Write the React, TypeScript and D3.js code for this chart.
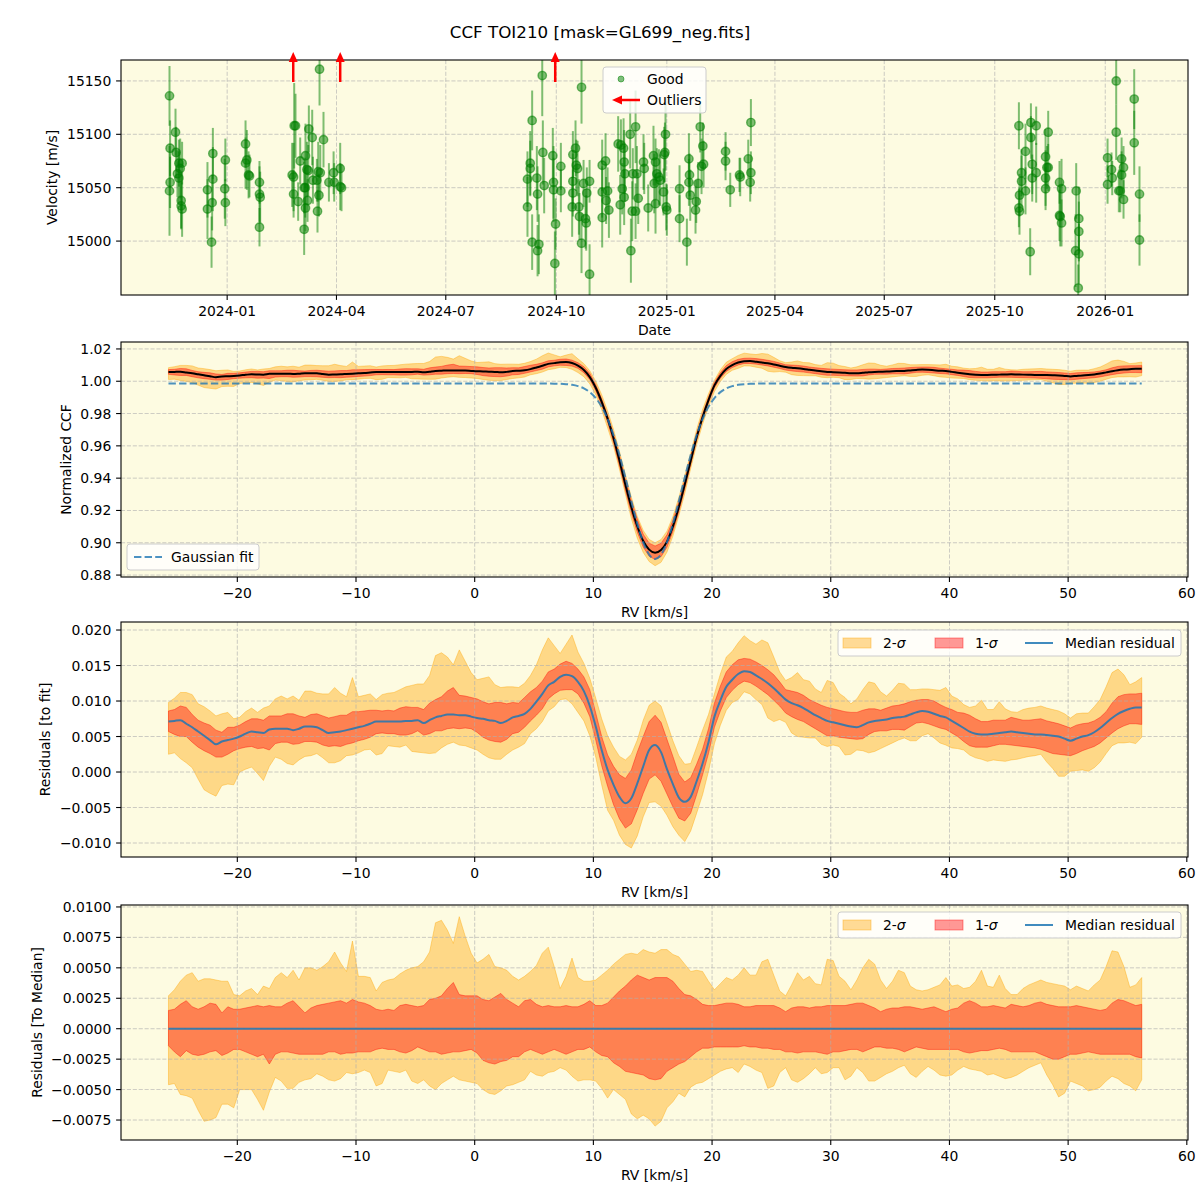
import React from 'react';
import * as d3 from 'd3';

// ---- radial velocity time series (BJD, m/s) ----
const goodBjd = [
  2460262.5, 2460267.5, 2460263.0, 2460268.0, 2460270.3, 2460273.0, 2460271.4, 2460269.1, 2460270.3, 2460263.0,
  2460262.5, 2460272.2, 2460272.2, 2460273.0, 2460294.1, 2460294.1, 2460298.6, 2460298.6, 2460298.0, 2460297.5,
  2460309.0, 2460308.5, 2460309.0, 2460325.8, 2460326.9, 2460325.8, 2460328.3, 2460329.1, 2460337.4, 2460337.4,
  2460338.0, 2460337.4, 2460366.3, 2460367.4, 2460364.6, 2460365.8, 2460365.8, 2460369.6, 2460371.3, 2460375.7,
  2460376.9, 2460378.0, 2460378.5, 2460381.3, 2460374.6, 2460375.5, 2460375.7, 2460377.4, 2460374.6, 2460381.9,
  2460385.2, 2460386.3, 2460388.0, 2460386.9, 2460385.7, 2460390.7, 2460387.4, 2460395.2, 2460399.1, 2460399.6,
  2460404.6, 2460404.6, 2460405.7, 2460564.4, 2460562.8, 2460562.8, 2460560.5, 2460560.5, 2460564.4, 2460568.3,
  2460568.9, 2460570.0, 2460568.9, 2460572.8, 2460573.3, 2460574.4, 2460581.6, 2460582.2, 2460582.2, 2460583.9,
  2460583.3, 2460588.3, 2460588.3, 2460598.3, 2460600.5, 2460601.1, 2460598.3, 2460598.3, 2460597.7, 2460602.2,
  2460603.3, 2460603.8, 2460605.5, 2460605.5, 2460607.2, 2460608.8, 2460609.4, 2460609.9, 2460612.2, 2460612.2,
  2460622.7, 2460625.5, 2460622.7, 2460626.0, 2460628.3, 2460622.7, 2460627.2, 2460636.0, 2460638.3, 2460640.5,
  2460641.0, 2460641.6, 2460639.4, 2460641.0, 2460637.7, 2460646.0, 2460650.5, 2460648.2, 2460651.6, 2460646.6,
  2460647.7, 2460650.5, 2460652.7, 2460657.1, 2460657.7, 2460661.0, 2460665.4, 2460667.1, 2460666.0, 2460668.2,
  2460669.9, 2460667.1, 2460671.0, 2460673.8, 2460675.4, 2460674.9, 2460674.3, 2460676.0, 2460676.5, 2460687.1,
  2460687.1, 2460693.2, 2460694.9, 2460695.4, 2460694.9, 2460696.0, 2460701.0, 2460700.4, 2460702.6, 2460704.3,
  2460706.5, 2460705.4, 2460707.1, 2460725.4, 2460725.4, 2460729.3, 2460737.0, 2460737.6, 2460744.3, 2460746.5,
  2460746.5, 2460745.9, 2460969.6, 2460969.6, 2460970.1, 2460970.1, 2460971.8, 2460971.8, 2460975.1, 2460975.1,
  2460979.0, 2460979.6, 2460979.6, 2460980.7, 2460980.7, 2460984.0, 2460984.0, 2460991.8, 2460991.8, 2460991.8,
  2460994.0, 2460994.0, 2460992.9, 2461003.4, 2461005.1, 2461003.4, 2461004.0, 2461005.1, 2461017.3, 2461019.5,
  2461019.5, 2461016.8, 2461019.5, 2461019.0, 2461043.4, 2461043.4, 2461046.7, 2461047.3, 2461050.6, 2461050.6,
  2461052.8, 2461054.0, 2461055.1, 2461055.1, 2461056.7, 2461056.7, 2461065.6, 2461065.6, 2461070.0, 2461070.0,
];
const goodVel = [
  15136, 15102, 15087, 15083, 15073, 15073, 15068, 15063, 15059, 15055,
  15047, 15038, 15033, 15030, 15048, 15030, 15082, 15058, 15036, 14999,
  15076, 15049, 15036, 15091, 15076, 15073, 15062, 15061, 15055, 15044,
  15041, 15013, 15108, 15108, 15062, 15060, 15044, 15037, 15075, 15080,
  15067, 15066, 15105, 15097, 15050, 15050, 15031, 15038, 15011, 15057,
  15057, 15065, 15064, 15043, 15028, 15095, 15161, 15055, 15064, 15055,
  15068, 15051, 15050, 15113, 15073, 15068, 15058, 15032, 14999, 15059,
  15044, 14997, 14991, 15155, 15083, 15052, 15080, 15055, 15048, 15016,
  14979, 15070, 15047, 15081, 15087, 15071, 15056, 15045, 15032, 15068,
  15032, 15023, 15144, 14998, 15054, 15021, 15017, 15045, 15056, 14969,
  15071, 15075, 15046, 15038, 15029, 15022, 15047, 15091, 15090, 15087,
  15074, 15063, 15049, 15041, 15034, 15100, 15107, 15063, 15063, 14991,
  15028, 15028, 15040, 15074, 15068, 15031, 15080, 15074, 15054, 15063,
  15060, 15035, 15057, 15046, 15100, 15083, 15081, 15032, 15029, 15049,
  15021, 14999, 15077, 15062, 15055, 15043, 15037, 15029, 15054, 15107,
  15089, 15070, 15072, 15084, 15075, 15048, 15062, 15060, 15077, 15111,
  15064, 15055, 15108, 15031, 15028, 15043, 15064, 15056, 15084, 15047,
  14990, 15111, 15097, 15072, 15059, 15108, 15064, 15079, 15059, 15049,
  15102, 15069, 15069, 15055, 15049, 15024, 15023, 15017, 15047, 15021,
  15009, 14991, 14988, 14956, 15078, 15053, 15067, 15059, 15150, 15102,
  15047, 15047, 15077, 15062, 15069, 15039, 15133, 15092, 15044, 15001,
];
const goodErr = [
  28, 22, 26, 24, 22, 20, 28, 22, 25, 24,
  42, 26, 22, 26, 26, 28, 24, 30, 26, 24,
  20, 28, 22, 22, 28, 24, 22, 20, 20, 26,
  24, 18, 40, 30, 30, 32, 22, 18, 22, 30,
  26, 24, 22, 26, 24, 28, 22, 20, 24, 22,
  20, 28, 26, 20, 20, 26, 34, 18, 20, 18,
  24, 22, 22, 28, 30, 26, 26, 28, 26, 30,
  26, 28, 24, 38, 30, 26, 26, 34, 30, 24,
  30, 22, 20, 22, 26, 24, 26, 22, 28, 26,
  26, 22, 34, 28, 22, 28, 26, 24, 20, 28,
  24, 26, 24, 22, 26, 28, 22, 26, 24, 28,
  30, 26, 24, 26, 28, 32, 34, 24, 26, 30,
  28, 26, 24, 26, 24, 22, 28, 22, 28, 24,
  26, 28, 24, 22, 34, 28, 26, 22, 24, 22,
  22, 22, 24, 20, 22, 24, 20, 22, 20, 24,
  22, 26, 22, 18, 18, 16, 16, 18, 18, 22,
  20, 18, 22, 18, 22, 20, 22, 24, 26, 22,
  22, 18, 20, 28, 22, 18, 28, 26, 26, 20,
  20, 22, 20, 20, 28, 24, 28, 22, 26, 30,
  28, 34, 28, 22, 18, 18, 16, 16, 22, 26,
  20, 20, 20, 22, 20, 18, 28, 30, 26, 24,
];

// epochs rejected as outliers (all above the plotted range)
const outlierBjd = [2460365.5, 2460404.6, 2460583.6];
const outlierVel = [15228, 15205, 15262];

// ---- CCF stack ----
const RV_START = -25.8; // km/s
const RV_STEP = 0.5;

// Gaussian fit to the median CCF
const FIT_CONTINUUM = 0.9986;
const FIT_DEPTH = 0.1086;
const FIT_CENTER = 15.2;
const FIT_SIGMA = 2.24;

// residual values below are in units of 1e-4
const RESID_UNIT = 1e-4;

// median residual to the Gaussian fit
const medianResid = [
  71, 72, 73, 68, 63, 57, 51, 45, 39, 43,
  45, 47, 50, 54, 57, 56, 55, 60, 61, 61,
  61, 59, 61, 64, 64, 63, 59, 55, 56, 57,
  59, 61, 63, 65, 68, 71, 71, 71, 71, 71,
  72, 72, 73, 69, 73, 77, 79, 81, 81, 80,
  80, 78, 76, 75, 73, 72, 69, 72, 77, 79,
  82, 89, 99, 110, 122, 127, 134, 137, 135, 127,
  114, 93, 64, 31, 3, -18, -35, -44, -37, -16,
  8, 31, 38,
  28, 4, -17, -36, -42, -35, -13, 12, 42, 78,
  101, 120, 130, 138, 142, 141, 136, 131, 125, 118,
  110, 102, 97, 94, 90, 85, 80, 76, 72, 70,
  68, 66, 64, 63, 66, 70, 72, 73, 74, 76,
  77, 78, 81, 84, 86, 85, 82, 79, 77, 72,
  67, 62, 57, 54, 53, 53, 54, 55, 56, 57,
  56, 55, 54, 53, 53, 52, 51, 50, 47, 44,
  47, 50, 52, 56, 62, 69, 76, 82, 86, 89,
  91, 91,
];

// spread of the individual residuals about the median
const band2Hi = [
  27, 32, 39, 44, 46, 39, 41, 41, 40, 39,
  39, 28, 27, 31, 33, 28, 35, 33, 42, 46,
  42, 48, 40, 50, 50, 48, 51, 55, 63, 54,
  47, 72, 43, 43, 42, 31, 38, 40, 41, 45,
  48, 50, 51, 55, 63, 87, 89, 81, 70, 92,
  76, 62, 54, 57, 61, 51, 50, 48, 43, 40,
  43, 47, 52, 62, 67, 51, 33, 43, 58, 42,
  39, 39, 40, 44, 48, 53, 57, 61, 62, 61,
  65, 63, 62,
  65, 65, 61, 59, 53, 47, 48, 47, 39, 32,
  37, 42, 40, 44, 50, 44, 44, 55, 57, 44,
  31, 27, 36, 46, 40, 43, 37, 36, 57, 56,
  43, 39, 32, 40, 50, 57, 53, 40, 33, 39,
  48, 46, 35, 32, 31, 32, 34, 36, 42, 35,
  36, 33, 34, 39, 48, 35, 34, 44, 33, 28,
  28, 33, 36, 38, 40, 38, 37, 36, 35, 32,
  35, 33, 31, 36, 40, 51, 64, 63, 51, 34,
  36, 42,
];
const band1Hi = [
  15, 16, 20, 23, 18, 16, 18, 21, 20, 13,
  18, 16, 16, 17, 18, 19, 18, 19, 18, 18,
  21, 23, 18, 13, 17, 19, 20, 21, 22, 23,
  21, 24, 22, 21, 19, 16, 15, 16, 15, 19,
  20, 19, 18, 19, 24, 25, 27, 33, 38, 28,
  27, 27, 27, 24, 23, 26, 29, 24, 21, 18,
  23, 24, 20, 18, 19, 18, 18, 19, 18, 18,
  20, 23, 19, 19, 21, 26, 31, 35, 40, 44,
  42, 40, 42,
  42, 42, 39, 33, 28, 27, 24, 20, 19, 19,
  20, 21, 21, 20, 18, 18, 19, 19, 19, 19,
  17, 14, 17, 18, 18, 17, 18, 18, 19, 19,
  19, 19, 20, 21, 21, 19, 17, 14, 16, 17,
  17, 18, 18, 17, 16, 17, 18, 16, 14, 16,
  17, 21, 23, 21, 18, 18, 19, 18, 17, 20,
  19, 18, 19, 21, 22, 20, 19, 18, 18, 18,
  19, 18, 17, 16, 15, 16, 21, 24, 23, 21,
  19, 20,
];
const band1Lo = [
  -14, -19, -23, -18, -21, -22, -21, -19, -18, -22,
  -20, -17, -17, -19, -21, -23, -21, -29, -21, -19,
  -19, -20, -21, -21, -21, -21, -21, -19, -19, -21,
  -20, -20, -19, -19, -19, -17, -16, -17, -17, -19,
  -20, -18, -15, -17, -19, -19, -21, -20, -19, -19,
  -18, -17, -20, -26, -28, -29, -27, -26, -23, -23,
  -19, -17, -19, -21, -19, -17, -19, -21, -19, -17,
  -17, -15, -19, -22, -23, -28, -31, -35, -36, -37,
  -38, -41, -42,
  -41, -35, -32, -29, -27, -23, -19, -16, -16, -15,
  -15, -15, -15, -15, -14, -15, -15, -16, -16, -17,
  -17, -19, -19, -20, -19, -19, -19, -20, -21, -19,
  -19, -18, -17, -17, -19, -17, -15, -15, -16, -16,
  -17, -19, -17, -15, -16, -17, -17, -17, -17, -17,
  -17, -19, -20, -19, -18, -18, -17, -16, -17, -19,
  -19, -19, -19, -19, -21, -23, -25, -25, -23, -21,
  -21, -20, -19, -20, -21, -21, -21, -21, -21, -21,
  -23, -24,
];
const band2Lo = [
  -46, -45, -54, -55, -57, -67, -76, -75, -73, -62,
  -62, -65, -50, -50, -50, -58, -67, -52, -40, -43,
  -49, -49, -44, -42, -41, -37, -39, -42, -43, -41,
  -36, -37, -36, -34, -36, -47, -45, -34, -35, -36,
  -34, -43, -45, -42, -47, -50, -45, -42, -39, -42,
  -43, -44, -45, -50, -53, -54, -51, -47, -46, -44,
  -42, -35, -38, -39, -36, -35, -32, -34, -39, -43,
  -42, -42, -43, -49, -57, -50, -54, -58, -70, -74,
  -71, -74, -80,
  -76, -65, -60, -53, -56, -48, -45, -44, -41, -38,
  -35, -33, -32, -36, -29, -31, -34, -36, -49, -47,
  -36, -32, -42, -44, -41, -37, -32, -37, -36, -32,
  -32, -42, -39, -32, -36, -43, -43, -40, -37, -35,
  -32, -30, -37, -40, -35, -31, -34, -38, -39, -38,
  -34, -31, -33, -34, -35, -38, -37, -39, -41, -40,
  -38, -35, -32, -30, -28, -38, -46, -56, -53, -43,
  -45, -47, -51, -50, -48, -43, -39, -41, -45, -47,
  -51, -42,
];

// axis limits and ticks
const VEL_LIM = [14949.5, 15169.6];
const CCF_LIM = [0.8788, 1.0243];
const RES_LIM = [-0.01197, 0.02113];
const DEV_LIM = [-0.00914, 0.01016];
const RV_LIM = [-29.8, 60.1];
const velTicks = [15000, 15050, 15100, 15150];
const ccfTicks = [0.88, 0.9, 0.92, 0.94, 0.96, 0.98, 1.0, 1.02];
const resTicks = [-0.01, -0.005, 0, 0.005, 0.01, 0.015, 0.02];
const devTicks = [-0.0075, -0.005, -0.0025, 0, 0.0025, 0.005, 0.0075, 0.01];
const rvTicks = [-20, -10, 0, 10, 20, 30, 40, 50, 60];

// ---- layout ----
const LEFT = 121;
const RIGHT = 1188;
const P1 = { top: 60, bottom: 295 };
const P2 = { top: 342, bottom: 577 };
const P3 = { top: 622, bottom: 857 };
const P4 = { top: 905, bottom: 1140 };
const BG = '#fdfbe1';
const FONT = 'DejaVu Sans, sans-serif';
const FS = 13.9;
const BLUE = '#1f77b4';

const jdToDate = (jd: number) => new Date((jd - 2440587.5) * 86400000);
const gaussFit = (v: number) =>
  FIT_CONTINUUM - FIT_DEPTH * Math.exp(-0.5 * ((v - FIT_CENTER) / FIT_SIGMA) ** 2);

const rvGrid = medianResid.map((_, i) => RV_START + i * RV_STEP);
const xRv = d3.scaleLinear().domain(RV_LIM).range([LEFT, RIGHT]);

type AxesProps = {
  id: string;
  box: { top: number; bottom: number };
  x: any;
  y: d3.ScaleLinear<number, number>;
  xTicks: any[];
  xFmt: (d: any) => string;
  yTicks: number[];
  yFmt: (d: number) => string;
  xLabel: string;
  yLabel: string;
  yLabelX: number;
  under?: React.ReactNode;
  over?: React.ReactNode;
};

function Axes({ id, box, x, y, xTicks, xFmt, yTicks, yFmt, xLabel, yLabel, yLabelX, under, over }: AxesProps) {
  const { top, bottom } = box;
  const grid = { stroke: '#b0b0b0', strokeWidth: 0.8, strokeDasharray: '4.1,1.8', opacity: 0.8 };
  return (
    <g>
      <defs>
        <clipPath id={id}>
          <rect x={LEFT} y={top} width={RIGHT - LEFT} height={bottom - top} />
        </clipPath>
      </defs>
      <rect x={LEFT} y={top} width={RIGHT - LEFT} height={bottom - top} fill={BG} />
      <g clipPath={`url(#${id})`}>
        {under}
        {xTicks.map((t, i) => (
          <line key={'gx' + i} x1={x(t)} x2={x(t)} y1={top} y2={bottom} {...grid} />
        ))}
        {yTicks.map((t, i) => (
          <line key={'gy' + i} x1={LEFT} x2={RIGHT} y1={y(t)} y2={y(t)} {...grid} />
        ))}
        {over}
      </g>
      <rect x={LEFT} y={top} width={RIGHT - LEFT} height={bottom - top} fill="none" stroke="#000" strokeWidth={1.1} />
      <g fontFamily={FONT} fontSize={FS} fill="#000">
        {xTicks.map((t, i) => (
          <g key={'tx' + i}>
            <line x1={x(t)} x2={x(t)} y1={bottom} y2={bottom + 4.9} stroke="#000" strokeWidth={1.1} />
            <text x={x(t)} y={bottom + 20.5} textAnchor="middle">{xFmt(t)}</text>
          </g>
        ))}
        {yTicks.map((t, i) => (
          <g key={'ty' + i}>
            <line x1={LEFT - 4.9} x2={LEFT} y1={y(t)} y2={y(t)} stroke="#000" strokeWidth={1.1} />
            <text x={LEFT - 9.7} y={y(t)} dy="0.36em" textAnchor="end">{yFmt(t)}</text>
          </g>
        ))}
        <text x={(LEFT + RIGHT) / 2} y={bottom + 40} textAnchor="middle">{xLabel}</text>
        <text
          transform={`translate(${yLabelX},${(top + bottom) / 2}) rotate(-90)`}
          dy="0.36em"
          textAnchor="middle"
        >
          {yLabel}
        </text>
      </g>
    </g>
  );
}

function SigmaLegend({ top }: { top: number }) {
  const cy = top + 13;
  return (
    <g fontFamily={FONT} fontSize={FS}>
      <rect x={838} y={top} width={343} height={26} rx={3} fill="#fff" fillOpacity={0.8} stroke="#ccc" />
      <rect x={843} y={cy - 5} width={28} height={10} fill="#ffa500" fillOpacity={0.4} stroke="#ffa500" strokeOpacity={0.4} />
      <text x={883} y={cy} dy="0.36em">
        2-<tspan fontStyle="italic">σ</tspan>
      </text>
      <rect x={935} y={cy - 5} width={28} height={10} fill="#ff0000" fillOpacity={0.4} stroke="#ff0000" strokeOpacity={0.4} />
      <text x={975} y={cy} dy="0.36em">
        1-<tspan fontStyle="italic">σ</tspan>
      </text>
      <line x1={1025} x2={1053} y1={cy} y2={cy} stroke={BLUE} strokeOpacity={0.85} strokeWidth={2} />
      <text x={1065} y={cy} dy="0.36em">Median residual</text>
    </g>
  );
}

export default function App() {
  // ---- panel 1: velocity vs date ----
  const dates = goodBjd.map(jdToDate);
  const [t0, t1] = d3.extent(dates) as [Date, Date];
  const tPad = (+t1 - +t0) * 0.05;
  const xTime = d3.scaleUtc().domain([new Date(+t0 - tPad), new Date(+t1 + tPad)]).range([LEFT, RIGHT]);
  const yVel = d3.scaleLinear().domain(VEL_LIM).range([P1.bottom, P1.top]);
  const timeTicks = xTime.ticks(d3.utcMonth.every(3) as d3.TimeInterval);
  const fmtMonth = d3.utcFormat('%Y-%m');

  // ---- CCF / residual panels ----
  const yCcf = d3.scaleLinear().domain(CCF_LIM).range([P2.bottom, P2.top]);
  const yRes = d3.scaleLinear().domain(RES_LIM).range([P3.bottom, P3.top]);
  const yDev = d3.scaleLinear().domain(DEV_LIM).range([P4.bottom, P4.top]);

  const band = (
    y: d3.ScaleLinear<number, number>,
    base: (i: number) => number,
    lo: number[],
    hi: number[],
  ) =>
    d3
      .area<number>()
      .x((d) => xRv(d))
      .y0((_, i) => y(base(i) + lo[i] * RESID_UNIT))
      .y1((_, i) => y(base(i) + hi[i] * RESID_UNIT))(rvGrid) as string;

  const line = (y: d3.ScaleLinear<number, number>, val: (i: number) => number) =>
    d3
      .line<number>()
      .x((d) => xRv(d))
      .y((_, i) => y(val(i)))
      .curve(d3.curveMonotoneX)(rvGrid) as string;

  const ccfBase = (i: number) => gaussFit(rvGrid[i]) + medianResid[i] * RESID_UNIT;
  const resBase = (i: number) => medianResid[i] * RESID_UNIT;
  const devBase = () => 0;

  const bands = (y: d3.ScaleLinear<number, number>, base: (i: number) => number) => (
    <g>
      <path d={band(y, base, band2Lo, band2Hi)} fill="#ffa500" fillOpacity={0.4} stroke="#ffa500" strokeOpacity={0.4} strokeWidth={1} />
      <path d={band(y, base, band1Lo, band1Hi)} fill="#ff0000" fillOpacity={0.4} stroke="#ff0000" strokeOpacity={0.4} strokeWidth={1} />
    </g>
  );

  const fmt2 = d3.format('.2f');
  const fmt3 = d3.format('.3f');
  const fmt4 = d3.format('.4f');
  const fmtInt = d3.format('d');

  return (
    <svg width={1200} height={1200} style={{ position: 'absolute', left: 0, top: 0, background: '#fff' }}>
      <rect width={1200} height={1200} fill="#fff" />
      <text x={600} y={38} textAnchor="middle" fontFamily={FONT} fontSize={16.7}>
        CCF TOI210 [mask=GL699_neg.fits]
      </text>

      {/* velocity time series */}
      <Axes
        id="clip-vel"
        box={P1}
        x={xTime}
        y={yVel}
        xTicks={timeTicks}
        xFmt={fmtMonth}
        yTicks={velTicks}
        yFmt={fmtInt}
        xLabel="Date"
        yLabel="Velocity [m/s]"
        yLabelX={52}
        over={
          <g>
            {dates.map((d, i) => (
              <line
                key={'e' + i}
                x1={xTime(d)}
                x2={xTime(d)}
                y1={yVel(goodVel[i] - goodErr[i])}
                y2={yVel(goodVel[i] + goodErr[i])}
                stroke="green"
                strokeOpacity={0.5}
                strokeWidth={2}
              />
            ))}
            {dates.map((d, i) => (
              <circle
                key={'p' + i}
                cx={xTime(d)}
                cy={yVel(goodVel[i])}
                r={4.2}
                fill="green"
                fillOpacity={0.5}
                stroke="green"
                strokeOpacity={0.55}
                strokeWidth={1.4}
              />
            ))}
          </g>
        }
      />
      {/* outliers above the plotted range */}
      {outlierBjd.map((jd, i) => {
        const x = xTime(jdToDate(jd));
        const tip = outlierVel[i] > VEL_LIM[1] ? P1.top - 8 : yVel(outlierVel[i]);
        return (
          <g key={'o' + i}>
            <line x1={x} x2={x} y1={P1.top + 22} y2={tip + 9} stroke="red" strokeWidth={2.5} />
            <path d={`M${x},${tip} L${x - 4.5},${tip + 10} L${x + 4.5},${tip + 10} Z`} fill="red" />
          </g>
        );
      })}
      <g fontFamily={FONT} fontSize={FS}>
        <rect x={603} y={67} width={103} height={46} rx={3} fill="#fff" fillOpacity={0.8} stroke="#ccc" />
        <circle cx={621} cy={79} r={3} fill="green" fillOpacity={0.5} stroke="green" strokeOpacity={0.5} />
        <text x={647} y={79} dy="0.36em">Good</text>
        <line x1={640} x2={620} y1={100} y2={100} stroke="red" strokeWidth={2.5} />
        <path d="M612,100 L622,95.5 L622,104.5 Z" fill="red" />
        <text x={647} y={100} dy="0.36em">Outliers</text>
      </g>

      {/* median CCF with Gaussian fit */}
      <Axes
        id="clip-ccf"
        box={P2}
        x={xRv}
        y={yCcf}
        xTicks={rvTicks}
        xFmt={fmtInt}
        yTicks={ccfTicks}
        yFmt={fmt2}
        xLabel="RV [km/s]"
        yLabel="Normalized CCF"
        yLabelX={66}
        under={bands(yCcf, ccfBase)}
        over={
          <g>
            <path d={line(yCcf, ccfBase)} fill="none" stroke="#000" strokeWidth={2} />
            <path
              d={line(yCcf, (i) => gaussFit(rvGrid[i]))}
              fill="none"
              stroke={BLUE}
              strokeOpacity={0.8}
              strokeWidth={2}
              strokeDasharray="7.4,3.2"
            />
          </g>
        }
      />
      <g fontFamily={FONT} fontSize={FS}>
        <rect x={127} y={544} width={132} height={26} rx={3} fill="#fff" fillOpacity={0.8} stroke="#ccc" />
        <line x1={134} x2={162} y1={557} y2={557} stroke={BLUE} strokeOpacity={0.8} strokeWidth={2} strokeDasharray="7.4,3.2" />
        <text x={171} y={557} dy="0.36em">Gaussian fit</text>
      </g>

      {/* residuals to the fit */}
      <Axes
        id="clip-res"
        box={P3}
        x={xRv}
        y={yRes}
        xTicks={rvTicks}
        xFmt={fmtInt}
        yTicks={resTicks}
        yFmt={fmt3}
        xLabel="RV [km/s]"
        yLabel="Residuals [to fit]"
        yLabelX={45}
        under={bands(yRes, resBase)}
        over={<path d={line(yRes, resBase)} fill="none" stroke={BLUE} strokeOpacity={0.85} strokeWidth={2} />}
      />
      <SigmaLegend top={630} />

      {/* residuals to the median */}
      <Axes
        id="clip-dev"
        box={P4}
        x={xRv}
        y={yDev}
        xTicks={rvTicks}
        xFmt={fmtInt}
        yTicks={devTicks}
        yFmt={fmt4}
        xLabel="RV [km/s]"
        yLabel="Residuals [To Median]"
        yLabelX={37}
        under={bands(yDev, devBase)}
        over={<path d={line(yDev, devBase)} fill="none" stroke={BLUE} strokeOpacity={0.85} strokeWidth={2} />}
      />
      <SigmaLegend top={912} />
    </svg>
  );
}
